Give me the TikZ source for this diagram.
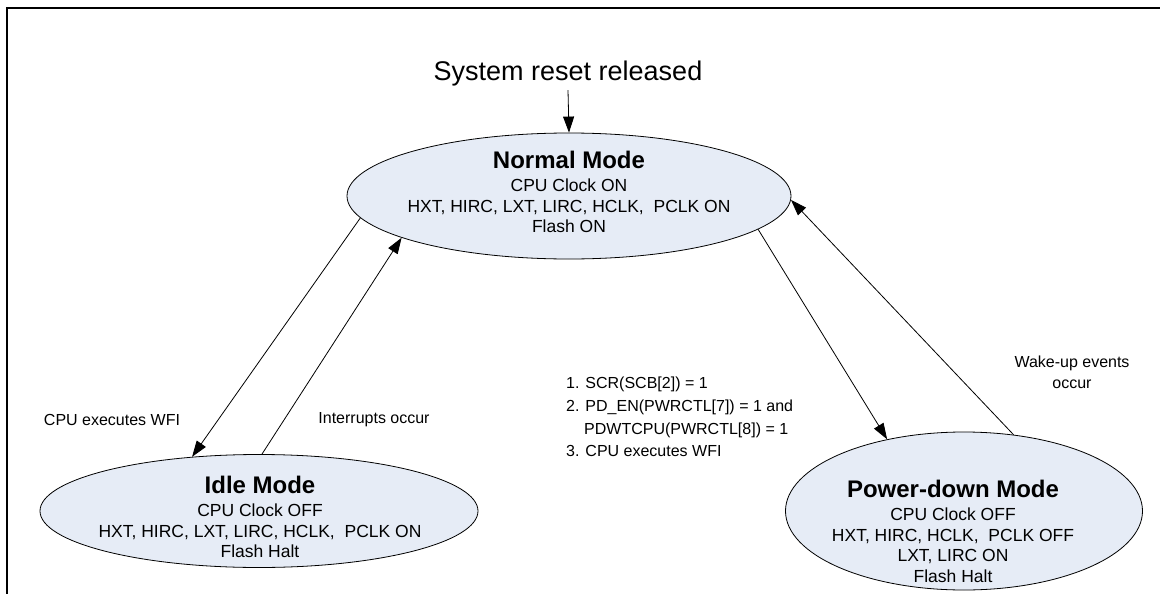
\documentclass[tikz,border=0pt]{standalone}
\usepackage{fontspec}
\setmainfont{Liberation Sans}
\usepackage{tikz}
\usepackage{xcolor}
\usetikzlibrary{arrows.meta, shapes.geometric}
\definecolor{modefill}{RGB}{230,236,246}
\newcommand{\modetitle}[1]{{\fontsize{24}{28}\selectfont\bfseries #1}\\[3pt]}

\begin{document}
\begin{tikzpicture}[
      x=1pt, y=-1pt,
      modebox/.style={ellipse, draw, line width=0.8pt, fill=modefill, inner sep=0pt},
      modetext/.style={align=center, inner sep=0pt, font=\fontsize{17.5}{20.5}\selectfont},
      note/.style={inner sep=0pt, font=\fontsize{16}{22.7}\selectfont},
      move/.style={line width=0.8pt, -{Triangle[length=16pt,width=11pt]}}
    ]
      \useasboundingbox (0,0) rectangle (1160,594);
      \draw[line width=2.5pt] (1160,8) -- (7,8) -- (7,594);

      \node[font=\fontsize{27}{32}\selectfont] (reset) at (568,74) {System reset released};

      \node[modebox, minimum width=444pt, minimum height=126pt] (normal) at (569,196) {};
      \node[modetext] (normaltxt) at (569,192) {\modetitle{Normal Mode}CPU Clock ON\\
          HXT, HIRC, LXT, LIRC, HCLK,\ \ PCLK ON\\Flash ON};

      \node[modebox, minimum width=438pt, minimum height=113pt] (idle) at (259,511) {};
      \node[modetext] (idletxt) at (260,517) {\modetitle{Idle Mode}CPU Clock OFF\\
          HXT, HIRC, LXT, LIRC, HCLK,\ \ PCLK ON\\Flash Halt};

      \node[modebox, minimum width=357pt, minimum height=158pt] (pd) at (964,511) {};
      \node[modetext] (pdtxt) at (953,531) {\modetitle{Power-down Mode}CPU Clock OFF\\
          HXT, HIRC, HCLK,\ \ PCLK OFF\\LXT, LIRC ON\\Flash Halt};

      \node[note] (wfi) at (112,420) {CPU executes WFI};
      \node[note] (irq) at (374,420) {Interrupts occur};
      \node[note, align=left, anchor=north west] (cond) at (566,377) {1. SCR(SCB[2]) = 1\\
          2. PD\_EN(PWRCTL[7]) = 1 and\\\hspace*{18pt}PDWTCPU(PWRCTL[8]) = 1\\
          3. CPU executes WFI};
      \node[note, align=center, font=\fontsize{16}{21}\selectfont] (wake) at (1072,372) {Wake-up events\\occur};

      \draw[move] (reset.south) -- (normal.north);
      \draw[move] (normal.186) -- (idle.141);
      \draw[move] (idle.87) -- (normal.194);
      \draw[move] (normal.-10) -- (pd.137);
      \draw[move] (pd.57) -- (normal.-1);
    \end{tikzpicture}
\end{document}
